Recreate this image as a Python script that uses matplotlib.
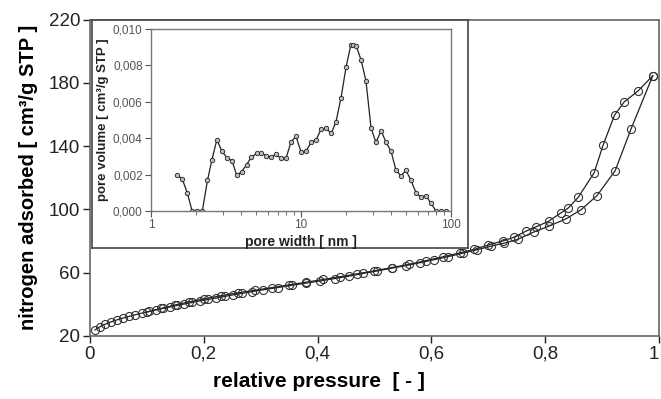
import numpy as np
import matplotlib
matplotlib.use('Agg')
import matplotlib.pyplot as plt
from matplotlib.ticker import FixedLocator, FixedFormatter, LogLocator, NullFormatter

plt.rcParams['font.family'] = ['Liberation Sans', 'DejaVu Sans']

# Isotherm - adsorption branch
p_ads = [0.009, 0.018, 0.027, 0.037, 0.047, 0.058, 0.069, 0.080, 0.092, 0.104,
         0.116, 0.128, 0.140, 0.153, 0.166, 0.180, 0.194, 0.208, 0.222, 0.237,
         0.252, 0.268, 0.285, 0.305, 0.330, 0.355, 0.380, 0.405, 0.430, 0.455,
         0.480, 0.505, 0.530, 0.555, 0.580, 0.605, 0.630, 0.655, 0.680, 0.705,
         0.727, 0.752, 0.780, 0.807, 0.837, 0.863, 0.891, 0.923, 0.951, 0.989]
v_ads = [23.8, 25.9, 27.5, 28.9, 30.1, 31.3, 32.4, 33.4, 34.5, 35.5,
         36.5, 37.4, 38.3, 39.3, 40.2, 41.2, 42.2, 43.1, 44.0, 45.0,
         46.0, 47.0, 48.0, 49.2, 50.6, 52.0, 53.4, 54.8, 56.3, 57.8,
         59.5, 61.1, 62.8, 64.5, 66.3, 68.2, 70.2, 72.3, 74.5, 76.8,
         78.6, 81.1, 85.7, 89.5, 94.1, 99.8, 108.7, 124.5, 151.0, 184.5]

# Isotherm - desorption branch
p_des = [0.989, 0.963, 0.939, 0.922, 0.902, 0.886, 0.858, 0.840, 0.828, 0.806,
         0.784, 0.766, 0.745, 0.725, 0.700, 0.675, 0.650, 0.620, 0.590, 0.560,
         0.530, 0.500, 0.470, 0.440, 0.410, 0.380, 0.350, 0.320, 0.290, 0.260,
         0.230, 0.200, 0.175, 0.150, 0.125, 0.100]
v_des = [184.5, 174.8, 168.0, 159.7, 140.9, 123.2, 107.6, 100.7, 97.9, 92.5,
         89.0, 86.2, 82.4, 80.0, 77.5, 74.7, 72.5, 70.0, 67.6, 65.2,
         63.2, 61.2, 59.3, 57.5, 55.7, 54.0, 52.3, 50.6, 48.9, 47.2,
         45.4, 43.4, 41.6, 39.6, 37.4, 35.1]

# Pore size distribution (inset)
pore_w = [1.50, 1.62, 1.75, 1.88, 2.04, 2.20, 2.38, 2.55, 2.75, 2.97,
          3.21, 3.47, 3.73, 4.02, 4.34, 4.67, 5.06, 5.44, 5.87, 6.34,
          6.81, 7.36, 7.94, 8.58, 9.26, 10.0, 10.8, 11.7, 12.6, 13.6,
          14.7, 15.9, 17.1, 18.5, 20.0, 21.5, 22.3, 23.3, 25.1, 27.1,
          29.3, 31.6, 34.2, 36.9, 39.8, 43.0, 46.4, 50.1, 54.1, 58.4,
          63.1, 68.1, 73.6, 79.4, 85.3, 92.1]
pore_v = [0.00198, 0.00174, 0.00097, 0.0, 0.0, 0.0, 0.00168, 0.00282, 0.00392, 0.00328,
          0.00293, 0.00275, 0.00196, 0.00216, 0.00255, 0.00295, 0.00317, 0.00317, 0.00304, 0.00297,
          0.00311, 0.00289, 0.00289, 0.00379, 0.00410, 0.00326, 0.00328, 0.00379, 0.00390, 0.00449,
          0.00454, 0.00427, 0.00489, 0.00623, 0.00793, 0.00912, 0.00912, 0.00908, 0.00832, 0.00716,
          0.00456, 0.00377, 0.00441, 0.00377, 0.00330, 0.00223, 0.00194, 0.00223, 0.00168, 0.00101,
          0.00075, 0.00084, 0.00042, 0.0, 0.0, 0.0]

x_ticks = [0, 0.2, 0.4, 0.6, 0.8, 1.0]
x_labels = ['0', '0,2', '0,4', '0,6', '0,8', '1']
y_ticks = [20, 60, 100, 140, 180, 220]
in_x_ticks = [1, 10, 100]
in_x_labels = ['1', '10', '100']
in_y_ticks = [0, 0.002, 0.004, 0.006, 0.008, 0.010]
in_y_labels = ['0,000', '0,002', '0,004', '0,006', '0,008', '0,010']

fig = plt.figure(figsize=(6.61, 3.99), dpi=100)
ax = fig.add_axes([0.136, 0.158, 0.861, 0.793])

ax.plot(p_ads, v_ads, '-', color='#222222', lw=0.9, marker='o', ms=5.8,
        mfc='none', mec='#333333', mew=0.8)
ax.plot(p_des, v_des, '-', color='#222222', lw=0.9, marker='o', ms=5.8,
        mfc='none', mec='#333333', mew=0.8)

ax.set_xlim(0, 1)
ax.set_ylim(20, 220)
ax.set_xticks(x_ticks)
ax.set_xticklabels(x_labels)
ax.set_yticks(y_ticks)
ax.tick_params(direction='out', length=5, width=1, labelsize=13.5, colors='#222222', pad=2)
# last x label sits at the figure edge, keep it inside
ax.get_xticklabels()[-1].set_horizontalalignment('right')
for s in ax.spines.values():
    s.set_color('#666666')
    s.set_linewidth(1.2)
ax.set_xlabel('relative pressure  [ - ]', fontsize=15, fontweight='bold', labelpad=6)
ax.xaxis.set_label_coords(0.402, -0.115)
ax.set_ylabel('nitrogen adsorbed [ cm³/g STP ]', fontsize=14.5, fontweight='bold', labelpad=8)

# inset frame (white box)
box = fig.add_axes([0.139, 0.378, 0.569, 0.573])
box.set_xticks([])
box.set_yticks([])
box.set_facecolor('white')
for s in box.spines.values():
    s.set_color('#444444')
    s.set_linewidth(1.2)

# inset plot
ins = fig.add_axes([0.2284, 0.4712, 0.4539, 0.4561])
ins.plot(pore_w, pore_v, '-', color='#222222', lw=0.9, marker='o', ms=3.2,
         mfc='#bbbbbb', mec='#222222', mew=0.6)
ins.set_xscale('log')
ins.set_xlim(1, 100)
ins.set_ylim(0, 0.010)
ins.set_yticks(in_y_ticks)
ins.set_yticklabels(in_y_labels)
ins.xaxis.set_major_locator(FixedLocator(in_x_ticks))
ins.xaxis.set_major_formatter(FixedFormatter(in_x_labels))
ins.xaxis.set_minor_locator(LogLocator(base=10, subs=np.arange(2, 10)))
ins.xaxis.set_minor_formatter(NullFormatter())
ins.tick_params(which='both', direction='out', colors='#555555', labelsize=8.5, pad=2)
ins.tick_params(which='major', length=4)
ins.tick_params(which='minor', length=3)
for s in ins.spines.values():
    s.set_color('#777777')
    s.set_linewidth(1.0)
ins.set_xlabel('pore width [ nm ]', fontsize=10, fontweight='bold',
               color='#222222', labelpad=3)
ins.set_ylabel('pore volume [ cm³/g STP ]', fontsize=9.5, fontweight='bold',
               color='#222222', labelpad=3)

fig.savefig('out.png', dpi=100)
